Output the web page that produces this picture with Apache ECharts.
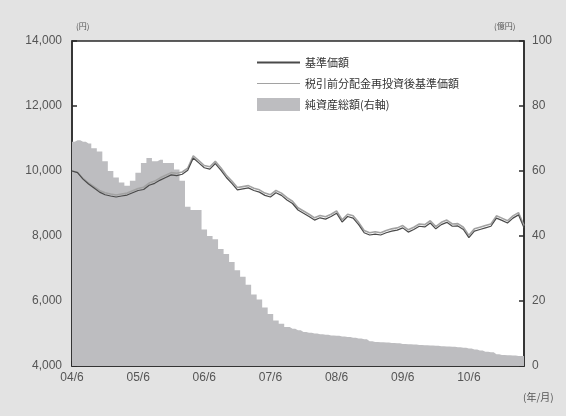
<!DOCTYPE html>
<html><head><meta charset="utf-8">
<script src="https://cdn.jsdelivr.net/npm/echarts@6/dist/echarts.min.js"></script>
<style>html,body{margin:0;padding:0;background:#e3e3e3}#c{width:566px;height:416px}</style>
</head><body><div id="c"></div>
<script>
const months = ["04/6","04/7","04/8","04/9","04/10","04/11","04/12","05/1","05/2","05/3","05/4","05/5",
"05/6","05/7","05/8","05/9","05/10","05/11","05/12","06/1","06/2","06/3","06/4","06/5",
"06/6","06/7","06/8","06/9","06/10","06/11","06/12","07/1","07/2","07/3","07/4","07/5",
"07/6","07/7","07/8","07/9","07/10","07/11","07/12","08/1","08/2","08/3","08/4","08/5",
"08/6","08/7","08/8","08/9","08/10","08/11","08/12","09/1","09/2","09/3","09/4","09/5",
"09/6","09/7","09/8","09/9","09/10","09/11","09/12","10/1","10/2","10/3","10/4","10/5",
"10/6","10/7","10/8","10/9","10/10","10/11","10/12","11/1","11/2","11/3","11/4"];
const xTickLabels = ["04/6","05/6","06/6","07/6","08/6","09/6","10/6"];
const basePrice = [10000,9950,9750,9600,9480,9350,9270,9230,9200,9230,9260,9330,
9400,9430,9560,9620,9720,9800,9880,9860,9900,10020,10400,10250,
10100,10060,10230,10030,9800,9620,9420,9450,9480,9400,9350,9250,
9200,9330,9250,9110,9000,8800,8700,8600,8490,8560,8520,8600,
8700,8430,8600,8550,8350,8100,8030,8060,8030,8100,8150,8180,
8250,8120,8200,8300,8280,8400,8220,8350,8420,8300,8310,8200,
7950,8150,8200,8250,8300,8550,8480,8400,8550,8650,8250];
const reinvested = [10000,9960,9770,9630,9520,9400,9330,9290,9260,9290,9320,9390,
9460,9500,9630,9690,9790,9870,9950,9930,9970,10090,10470,10320,
10170,10130,10300,10100,9870,9690,9490,9520,9550,9470,9420,9320,
9270,9400,9320,9180,9070,8870,8770,8670,8560,8630,8590,8670,
8770,8500,8670,8620,8420,8170,8100,8130,8100,8170,8220,8250,
8320,8190,8270,8370,8350,8470,8290,8420,8490,8370,8380,8270,
8020,8220,8270,8320,8370,8620,8550,8470,8620,8720,8320];
const netAssets = [69,69.5,69,68.5,67,66,63,60,58,56.5,55.5,57,
59.5,62.5,64,63,63.5,62.5,62.5,60.5,57,49,48,48,
42,40,39,36,34.5,32,29.5,27.5,25,22,20.5,18,
16,14,13,12,11.5,11,10.5,10.2,10,9.8,9.6,9.4,
9.3,9.1,8.9,8.7,8.5,8.2,7.6,7.4,7.3,7.2,7.1,7.0,
6.8,6.7,6.6,6.5,6.4,6.3,6.2,6.1,6.0,5.9,5.8,5.6,
5.4,5.1,4.8,4.4,4.2,3.6,3.4,3.3,3.2,3.1,3.1];
const leftTicks = [4000,14000,2000];
const rightTicks = [0,100,20];
const names = ["基準価額","税引前分配金再投資後基準価額","純資産総額(右軸)"];

const chart = echarts.init(document.getElementById('c'), null, {renderer:'canvas'});
const fontFam = '"Liberation Sans", "Noto Sans CJK JP", sans-serif';
chart.setOption({
  backgroundColor:'#e3e3e3',
  animation:false,
  textStyle:{fontFamily:fontFam},
  grid:{left:72,right:42,top:41,bottom:50,show:true,backgroundColor:'#fff',borderColor:'#2a2a2a',borderWidth:1.5},
  legend:{
    orient:'vertical', left:252, top:51, itemWidth:43, itemHeight:13, itemGap:8,
    textStyle:{fontSize:11,color:'#333',fontFamily:'"Noto Sans CJK JP", sans-serif'},
    data:[
      {name:names[0],icon:'path://M0,0 M0,5.6 L43,5.6 L43,7.4 L0,7.4 Z M43,13'},
      {name:names[1],icon:'path://M0,0 M0,6 L43,6 L43,7.1 L0,7.1 Z M43,13'},
      {name:names[2],icon:'rect'}]
  },
  xAxis:{
    type:'category', data:months, boundaryGap:false,
    axisLine:{show:true,lineStyle:{color:'#2a2a2a',width:1.5}},
    axisTick:{inside:true,length:5,alignWithLabel:true,lineStyle:{color:'#2a2a2a',width:1.5},
      interval:function(i,v){return xTickLabels.indexOf(v)>=0;}},
    axisLabel:{color:'#555',fontSize:12,margin:6,
      interval:function(i,v){return xTickLabels.indexOf(v)>=0;}},
    splitLine:{show:false}
  },
  yAxis:[{
    type:'value', min:leftTicks[0], max:leftTicks[1], interval:leftTicks[2], position:'left',
    axisLine:{show:true,lineStyle:{color:'#2a2a2a',width:1.5}},
    axisTick:{show:true,inside:true,length:5,lineStyle:{color:'#2a2a2a',width:1.5}},
    axisLabel:{color:'#555',fontSize:12,margin:10,formatter:function(v){return v.toLocaleString('en-US');}},
    splitLine:{show:false}
  },{
    type:'value', min:rightTicks[0], max:rightTicks[1], interval:rightTicks[2], position:'right',
    axisLine:{show:true,lineStyle:{color:'#2a2a2a',width:1.5}},
    axisTick:{show:true,inside:true,length:5,lineStyle:{color:'#2a2a2a',width:1.5}},
    axisLabel:{color:'#555',fontSize:12,margin:8},
    splitLine:{show:false}
  }],
  graphic:[
    {type:'text',left:76,top:22,style:{text:'(円)',fontSize:8,fill:'#555',fontFamily:'"Noto Sans CJK JP", sans-serif'}},
    {type:'text',left:494,top:22,style:{text:'(億円)',fontSize:8,fill:'#555',fontFamily:'"Noto Sans CJK JP", sans-serif'}},
    {type:'text',left:523,top:392,style:{text:'(年/月)',fontSize:10,fill:'#555',fontFamily:'"Noto Sans CJK JP", sans-serif'}}
  ],
  series:[
    {name:names[2],type:'line',yAxisIndex:1,data:netAssets,step:'middle',symbol:'none',
      lineStyle:{width:0,color:'#bdbdc0'},itemStyle:{color:'#bdbdc0'},areaStyle:{color:'#bdbdc0',opacity:1},z:1},
    {name:names[1],type:'line',data:reinvested,symbol:'none',
      lineStyle:{width:1.6,color:'#a2a2a2'},itemStyle:{color:'#a2a2a2'},z:3},
    {name:names[0],type:'line',data:basePrice,symbol:'none',
      lineStyle:{width:1.2,color:'#4a4a4a'},itemStyle:{color:'#4a4a4a'},z:4}
  ]
});
</script></body></html>
